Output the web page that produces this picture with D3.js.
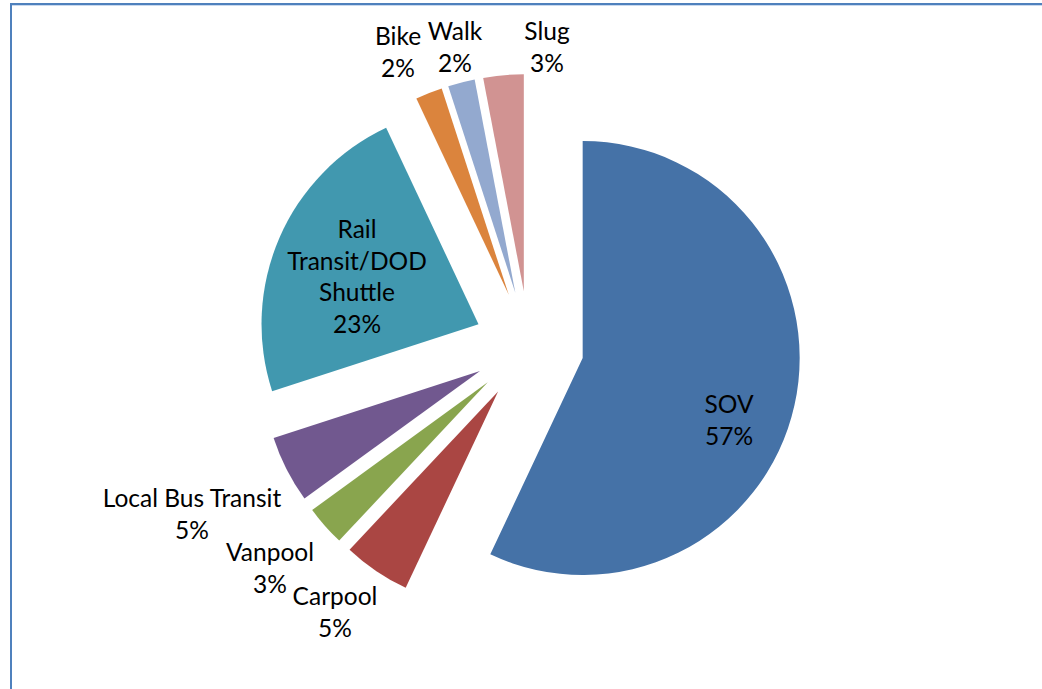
<!DOCTYPE html>
<html>
<head>
<meta charset="utf-8">
<script src="https://cdn.jsdelivr.net/npm/d3@7"></script>
<style>
  body { margin: 0; background: #fff; }
  svg { display: block; }
  text { font-family: Lato, "Open Sans", sans-serif; font-size: 24.5px; fill: #000; }
</style>
</head>
<body>
<svg id="chart" width="1042" height="689"></svg>
<script>
// Commute mode split (%)
const modes = ["SOV", "Carpool", "Vanpool", "Local Bus Transit", "Rail Transit/DOD Shuttle", "Bike", "Walk", "Slug"];
const shares = [57, 5, 3, 5, 23, 2, 2, 3];
const colors = ["#4572A7", "#AA4643", "#89A54E", "#71588F", "#4198AF", "#DB843D", "#93A9CF", "#D19392"];
// how each category name is broken over lines in its label
const nameLines = [["SOV"], ["Carpool"], ["Vanpool"], ["Local Bus Transit"], ["Rail", "Transit/DOD", "Shuttle"], ["Bike"], ["Walk"], ["Slug"]];

// Layout
const width = 1042, height = 689;
const cx = 529, cy = 346;       // pie centre before explosion
const radius = 217;
const explode = 55;             // px each slice is pulled out
const lineH = 31.5;
// label anchor: centre x, first baseline y
const labelAt = [[729, 413], [335, 605], [270, 561], [192, 507], [357, 238], [398, 45], [455, 40], [547, 40]];

const svg = d3.select("#chart");

// chart frame (right and bottom edges run off the page)
svg.append("path")
    .attr("d", `M11,${height + 5} V4 H${width + 5}`)
    .attr("fill", "none")
    .attr("stroke", "#4F81BD")
    .attr("stroke-width", 2);
svg.append("line")
    .attr("x1", 12).attr("x2", width + 5)
    .attr("y1", 5.5).attr("y2", 5.5)
    .attr("stroke", "#C9D9EE")
    .attr("stroke-width", 1);

const pie = d3.pie().sort(null).value(d => d)(shares);
const arc = d3.arc().innerRadius(0).outerRadius(radius);

const g = svg.append("g").attr("transform", `translate(${cx},${cy})`);

g.selectAll("path.slice")
    .data(pie)
    .enter()
    .append("path")
    .attr("class", "slice")
    .attr("d", arc)
    .attr("fill", (d, i) => colors[i])
    .attr("transform", d => {
        const mid = (d.startAngle + d.endAngle) / 2;
        return `translate(${explode * Math.sin(mid)},${-explode * Math.cos(mid)})`;
    });

// Data labels: name lines + percentage
const labels = svg.append("g");
pie.forEach((d, i) => {
    const lines = nameLines[i].concat([d3.format(".0f")(shares[i]) + "%"]);
    const t = labels.append("text")
        .attr("text-anchor", "middle")
        .attr("x", labelAt[i][0])
        .attr("y", labelAt[i][1]);
    lines.forEach((s, k) => {
        t.append("tspan")
            .attr("x", labelAt[i][0])
            .attr("dy", k === 0 ? 0 : lineH)
            .text(s);
    });
});
</script>
</body>
</html>
